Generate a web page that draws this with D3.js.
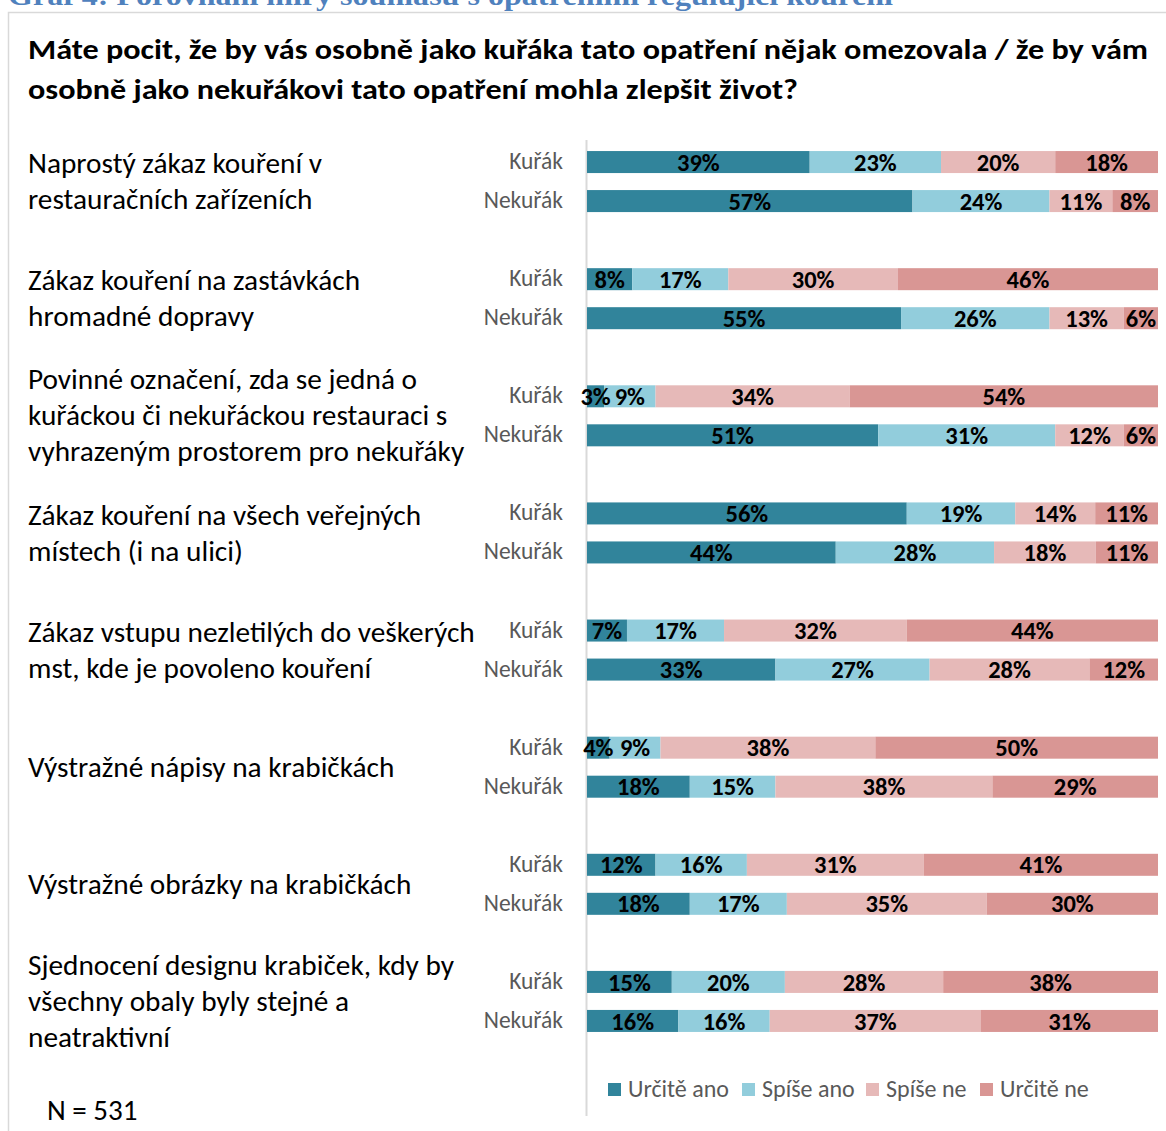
<!DOCTYPE html>
<html><head><meta charset="utf-8">
<script src="https://cdn.jsdelivr.net/npm/d3@7"></script>
<style>
html,body{margin:0;padding:0;background:#fff;}
svg{display:block;}
</style></head>
<body>
<svg id="chart" width="1166" height="1131"></svg>
<script>
const categories = [
  "Naprostý zákaz kouření v\nrestauračních zařízeních",
  "Zákaz kouření na zastávkách\nhromadné dopravy",
  "Povinné označení, zda se jedná o\nkuřáckou či nekuřáckou restauraci s\nvyhrazeným prostorem pro nekuřáky",
  "Zákaz kouření na všech veřejných\nmístech (i na ulici)",
  "Zákaz vstupu nezletilých do veškerých\nmst, kde je povoleno kouření",
  "Výstražné nápisy na krabičkách",
  "Výstražné obrázky na krabičkách",
  "Sjednocení designu krabiček, kdy by\nvšechny obaly byly stejné a\nneatraktivní"
];
const groups = ["Kuřák", "Nekuřák"];
const seriesNames = ["Určitě ano", "Spíše ano", "Spíše ne", "Určitě ne"];

const kurakUrciteAno   = [39, 8, 3, 56, 7, 4, 12, 15];
const kurakSpiseAno    = [23, 17, 9, 19, 17, 9, 16, 20];
const kurakSpiseNe     = [20, 30, 34, 14, 32, 38, 31, 28];
const kurakUrciteNe    = [18, 46, 54, 11, 44, 50, 41, 38];
const nekurakUrciteAno = [57, 55, 51, 44, 33, 18, 18, 16];
const nekurakSpiseAno  = [24, 26, 31, 28, 27, 15, 17, 16];
const nekurakSpiseNe   = [11, 13, 12, 18, 28, 38, 35, 37];
const nekurakUrciteNe  = [8, 6, 6, 11, 12, 29, 30, 31];

const titleText = ["Máte pocit, že by vás osobně jako kuřáka tato opatření nějak omezovala / že by vám",
                   "osobně jako nekuřákovi tato opatření mohla zlepšit život?"];
const captionText = "Graf 4: Porovnání míry souhlasu s opatřeními regulující kouření";
const noteText = "N = 531";

const colors = ["#31849B", "#92CDDC", "#E6B9B8", "#D99694"];
const calibri = "Carlito, Calibri, 'Open Sans', sans-serif";

// build table
const rows = [];
categories.forEach((c, i) => {
  rows.push({cat: c, grp: "Kuřák", v: [kurakUrciteAno[i], kurakSpiseAno[i], kurakSpiseNe[i], kurakUrciteNe[i]]});
  rows.push({cat: c, grp: "Nekuřák", v: [nekurakUrciteAno[i], nekurakSpiseAno[i], nekurakSpiseNe[i], nekurakUrciteNe[i]]});
});
rows.forEach(r => seriesNames.forEach((s, k) => r[s] = r.v[k]));

const svg = d3.select("#chart");

// caption (cut off at top)
svg.append("text").attr("x", 8).attr("y", 5)
  .attr("font-family", "'Liberation Serif', 'DejaVu Serif', serif")
  .attr("font-weight", "bold").attr("font-size", 27).attr("fill", "#4F81BD")
  .attr("textLength", 885).attr("lengthAdjust", "spacingAndGlyphs")
  .text(captionText);

// frame
svg.append("path").attr("d", "M8.5,1131 V12.5 H1166")
  .attr("fill", "none").attr("stroke", "#d9d9d9").attr("stroke-width", 1.5);

// title
const tLens = [1120, 770];
titleText.forEach((t, i) => {
  svg.append("text").attr("x", 28).attr("y", 59 + i * 40)
    .attr("font-family", calibri).attr("font-weight", "bold").attr("font-size", 29)
    .attr("fill", "#000")
    .attr("textLength", tLens[i]).attr("lengthAdjust", "spacingAndGlyphs")
    .text(t);
});

const x = d3.scaleLinear().domain([0, 1]).range([587, 1158]);
const y = d3.scaleBand().domain(categories).range([123, 1060]).padding(0);
const yi = d3.scaleBand().domain(groups).range([0, y.bandwidth()]).paddingInner(0.436).paddingOuter(0.719);

const stack = d3.stack().keys(seriesNames).offset(d3.stackOffsetExpand);
const stacked = stack(rows);

const rowY = r => y(r.cat) + yi(r.grp);

// vertical axis line
svg.append("line").attr("x1", 586.5).attr("x2", 586.5).attr("y1", 140).attr("y2", 1116)
  .attr("stroke", "#d9d9d9").attr("stroke-width", 2);

const layers = svg.append("g").selectAll("g").data(stacked).join("g")
  .attr("fill", (d, i) => colors[i]);

layers.selectAll("rect").data(d => d.map(p => ({p, row: p.data}))).join("rect")
  .attr("x", d => x(d.p[0]))
  .attr("width", d => x(d.p[1]) - x(d.p[0]))
  .attr("y", d => rowY(d.row))
  .attr("height", yi.bandwidth());

// data labels
stacked.forEach((layer, k) => {
  svg.append("g").selectAll("text").data(layer).join("text")
    .attr("x", p => (x(p[0]) + x(p[1])) / 2)
    .attr("y", p => rowY(p.data) + yi.bandwidth() / 2)
    .attr("dy", "0.35em")
    .attr("text-anchor", "middle")
    .attr("font-family", calibri).attr("font-weight", "bold").attr("font-size", 24.5)
    .attr("fill", "#000")
    .text(p => p.data.v[k] + "%");
});

// row labels (Kuřák / Nekuřák)
svg.append("g").selectAll("text").data(rows).join("text")
  .attr("x", 563).attr("y", r => rowY(r) + yi.bandwidth() / 2)
  .attr("dy", "0.3em").attr("text-anchor", "end")
  .attr("font-family", calibri).attr("font-size", 23.5).attr("fill", "#595959")
  .text(r => r.grp);

// category labels
const lineH = 36;
const catG = svg.append("g");
categories.forEach(c => {
  const lines = c.split("\n");
  const cy = y(c) + y.bandwidth() / 2;
  const t = catG.append("text").attr("x", 28)
    .attr("font-family", calibri).attr("font-size", 29.3).attr("fill", "#000");
  lines.forEach((l, j) => {
    t.append("tspan").attr("x", 28)
      .attr("y", cy + (j - (lines.length - 1) / 2) * lineH)
      .attr("dy", "0.33em").text(l);
  });
});

// legend
const legX = [608, 742, 866, 980];
const leg = svg.append("g").selectAll("g").data(seriesNames).join("g")
  .attr("transform", (d, i) => `translate(${legX[i]},1089)`);
leg.append("rect").attr("x", 0).attr("y", -6).attr("width", 13).attr("height", 13)
  .attr("fill", (d, i) => colors[i]);
leg.append("text").attr("x", 20).attr("y", 0).attr("dy", "0.33em")
  .attr("font-family", calibri).attr("font-size", 24).attr("fill", "#595959")
  .text(d => d);

// N note
svg.append("text").attr("x", 47).attr("y", 1110).attr("dy", "0.33em")
  .attr("font-family", calibri).attr("font-size", 29).attr("fill", "#000")
  .text(noteText);
</script>
</body></html>
